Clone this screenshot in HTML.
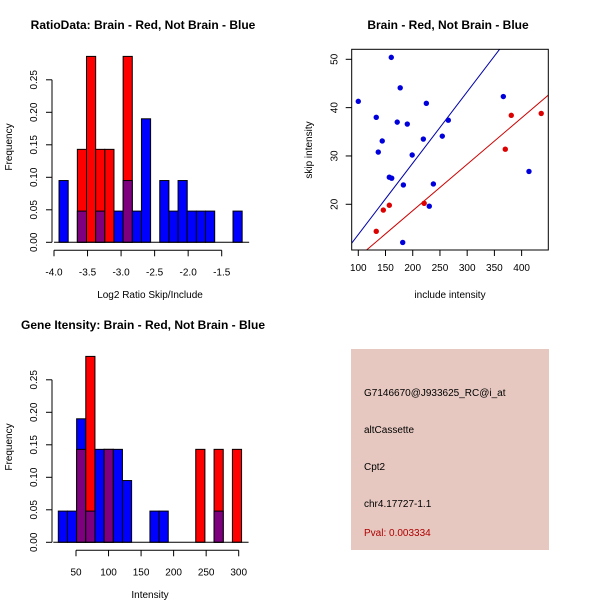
<!DOCTYPE html>
<html><head><meta charset="utf-8"><style>
body{margin:0;background:#fff}
svg{display:block;font-family:"Liberation Sans",sans-serif}
</style></head><body>
<svg id="c" width="600" height="600" xmlns="http://www.w3.org/2000/svg">
<rect width="600" height="600" fill="#fff"/>
<text x="143" y="29" font-size="12" font-weight="bold" text-anchor="middle">RatioData: Brain - Red, Not Brain - Blue</text>
<text x="448" y="29" font-size="12" font-weight="bold" text-anchor="middle">Brain - Red, Not Brain - Blue</text>
<text x="143" y="329" font-size="12" font-weight="bold" text-anchor="middle">Gene Itensity: Brain - Red, Not Brain - Blue</text>
<text x="150" y="298" font-size="10" text-anchor="middle">Log2 Ratio Skip/Include</text>
<text x="150" y="598" font-size="10" text-anchor="middle">Intensity</text>
<text transform="translate(12,147) rotate(-90)" font-size="10" text-anchor="middle">Frequency</text>
<text transform="translate(12,447) rotate(-90)" font-size="10" text-anchor="middle">Frequency</text>
<text x="450" y="298" font-size="10" text-anchor="middle">include intensity</text>
<text transform="translate(312,150) rotate(-90)" font-size="10" text-anchor="middle">skip intensity</text>
<g>
<rect x="351" y="349" width="198" height="201" fill="#e6c8c0"/>
<text x="364" y="396" font-size="10">G7146670@J933625_RC@i_at</text>
<text x="364" y="433" font-size="10">altCassette</text>
<text x="364" y="470" font-size="10">Cpt2</text>
<text x="364" y="507" font-size="10">chr4.17727-1.1</text>
<text x="364" y="536" font-size="10" fill="#b00000">Pval: 0.003334</text>
</g>
</svg>
<script>
// Histogram 1 (ratio)
const ratioBinStart = -3.925, ratioBinWidth = 0.1365;
const ratioBlue = [0.095,0,0.048,0,0.048,0,0.048,0.095,0.048,0.19,0,0.095,0.048,0.095,0.048,0.048,0.048,0,0,0.048];
const ratioRed  = [0,0,0.143,0.286,0.143,0.143,0,0.286,0,0,0,0,0,0,0,0,0,0,0,0];
const ratioXTicks = [-4.0,-3.5,-3.0,-2.5,-2.0,-1.5];
const ratioXLabels = ["-4.0","-3.5","-3.0","-2.5","-2.0","-1.5"];
// Histogram 2 (intensity)
const intBinStart = 22.8, intBinWidth = 14.08;
const intBlue = [0.048,0.048,0.19,0.048,0.143,0.143,0.143,0.095,0,0,0.048,0.048,0,0,0,0,0,0.048,0,0];
const intRed  = [0,0,0.143,0.286,0,0.143,0,0,0,0,0,0,0,0,0,0.143,0,0.143,0,0.143];
const intXTicks = [50,100,150,200,250,300];
const intXLabels = ["50","100","150","200","250","300"];
const freqTicks = [0,0.05,0.10,0.15,0.20,0.25];
const freqLabels = ["0.00","0.05","0.10","0.15","0.20","0.25"];
// Scatter
const blueX = [100,160.6,177,133,171.5,190,225,265.3,254.3,219.5,144,136.7,199,157,161.4,182.8,237.9,230.4,181.6,366.4,413.5];
const blueY = [41.3,50.4,44.1,38.0,37.0,36.6,40.9,37.4,34.1,33.5,33.1,30.8,30.2,25.6,25.4,24.0,24.2,19.6,12.1,42.3,26.8];
const redX = [133,146,157,221,370,381,436];
const redY = [14.4,18.8,19.8,20.2,31.4,38.4,38.8];
const fitBlue = [-1.03,0.1477];
const fitRed = [-0.52,0.096];
const scXTicks = [100,150,200,250,300,350,400];
const scYTicks = [20,30,40,50];

const svg = document.getElementById('c');
const NS = 'http://www.w3.org/2000/svg';
function mk(tag, attrs, parent){const e=document.createElementNS(NS,tag);for(const k in attrs)e.setAttribute(k,attrs[k]);(parent||svg).appendChild(e);return e;}

function hist(name, oy, x0, x1, d0, d1, bs, bw, blue, red, xt, xl){
  const sx = v => x0 + (v-d0)/(d1-d0)*(x1-x0);
  const sy = v => oy - v/0.05*32.5;
  const g = mk('g',{});
  
  
  for(let i=0;i<blue.length;i++){
    const l = sx(bs+i*bw), r = sx(bs+(i+1)*bw);
    const b = blue[i], rd = red[i];
    const top = Math.max(b,rd);
    if(top<=0) continue;
    const lo = Math.min(b,rd);
    const col = b>=rd ? '#0000ff' : '#ff0000';
    const e = mk('rect',{x:l,y:sy(top),width:r-l,height:sy(0)-sy(top),fill:col,stroke:'#000','stroke-width':1},g);
    
    
    if(lo>0){
      const p = mk('rect',{x:l,y:sy(lo),width:r-l,height:sy(0)-sy(lo),fill:'#7f007f',stroke:'#000','stroke-width':1},g);
      
      
    }
  }
  mk('line',{x1:sx(bs)-5,x2:sx(bs+blue.length*bw)+7,y1:oy,y2:oy,stroke:'#000'},g);
  mk('line',{x1:52,x2:52,y1:sy(0),y2:sy(0.25),stroke:'#000'},g);
  freqTicks.forEach((t,i)=>{
    mk('line',{x1:46,x2:52,y1:sy(t),y2:sy(t),stroke:'#000'},g);
    const tx = mk('text',{transform:`translate(37,${sy(t)}) rotate(-90)`,'font-size':10,'text-anchor':'middle'},g);
    tx.textContent = freqLabels[i];
    
    
  });
  const ya = oy+8;
  mk('line',{x1:sx(xt[0]),x2:sx(xt[xt.length-1]),y1:ya,y2:ya,stroke:'#000'},g);
  xt.forEach((t,i)=>{
    mk('line',{x1:sx(t),x2:sx(t),y1:ya,y2:ya+6,stroke:'#000'},g);
    const tx = mk('text',{x:sx(t),y:ya+25,'font-size':10,'text-anchor':'middle'},g);
    tx.textContent = xl[i];
    
    
  });
}
hist('ratio-histogram',242.3,54,221.7,-4.0,-1.5,ratioBinStart,ratioBinWidth,ratioBlue,ratioRed,ratioXTicks,ratioXLabels);
hist('intensity-histogram',542.3,76,238.7,50,300,intBinStart,intBinWidth,intBlue,intRed,intXTicks,intXLabels);

(function(){
  const L=351.7,R=548.3,T=49.3,B=250;
  const xmin=87.9,xmax=449,ymin=10.54,ymax=52.07;
  const sx=v=>L+(v-xmin)/(xmax-xmin)*(R-L);
  const sy=v=>B-(v-ymin)/(ymax-ymin)*(B-T);
  const g = mk('g',{});
  
  
  const cp = mk('clipPath',{id:'cp'},g);
  mk('rect',{x:L,y:T,width:R-L,height:B-T},cp);
  [[fitBlue,'#0000aa','fit-line-blue'],[fitRed,'#cc0000','fit-line-red']].forEach(([f,c,n])=>{
    const ln = mk('line',{x1:sx(xmin),y1:sy(f[0]+f[1]*xmin),x2:sx(xmax),y2:sy(f[0]+f[1]*xmax),stroke:c,'clip-path':'url(#cp)'},g);
    
    
  });
  blueX.forEach((x,i)=>{
    const p = mk('circle',{cx:sx(x),cy:sy(blueY[i]),r:2.7,fill:'#0000dd'},g);
    
    
  });
  redX.forEach((x,i)=>{
    const p = mk('circle',{cx:sx(x),cy:sy(redY[i]),r:2.7,fill:'#dd0000'},g);
    
    
  });
  mk('rect',{x:L,y:T,width:R-L,height:B-T,fill:'none',stroke:'#000'},g);
  scXTicks.forEach(t=>{
    mk('line',{x1:sx(t),x2:sx(t),y1:B,y2:B+6,stroke:'#000'},g);
    const tx = mk('text',{x:sx(t),y:B+21,'font-size':10,'text-anchor':'middle'},g);
    tx.textContent = t;
    
    
  });
  scYTicks.forEach(t=>{
    mk('line',{x1:L-6,x2:L,y1:sy(t),y2:sy(t),stroke:'#000'},g);
    const tx = mk('text',{transform:`translate(${L-14},${sy(t)}) rotate(-90)`,'font-size':10,'text-anchor':'middle'},g);
    tx.textContent = t;
    
    
  });
})();
</script>
</body></html>
